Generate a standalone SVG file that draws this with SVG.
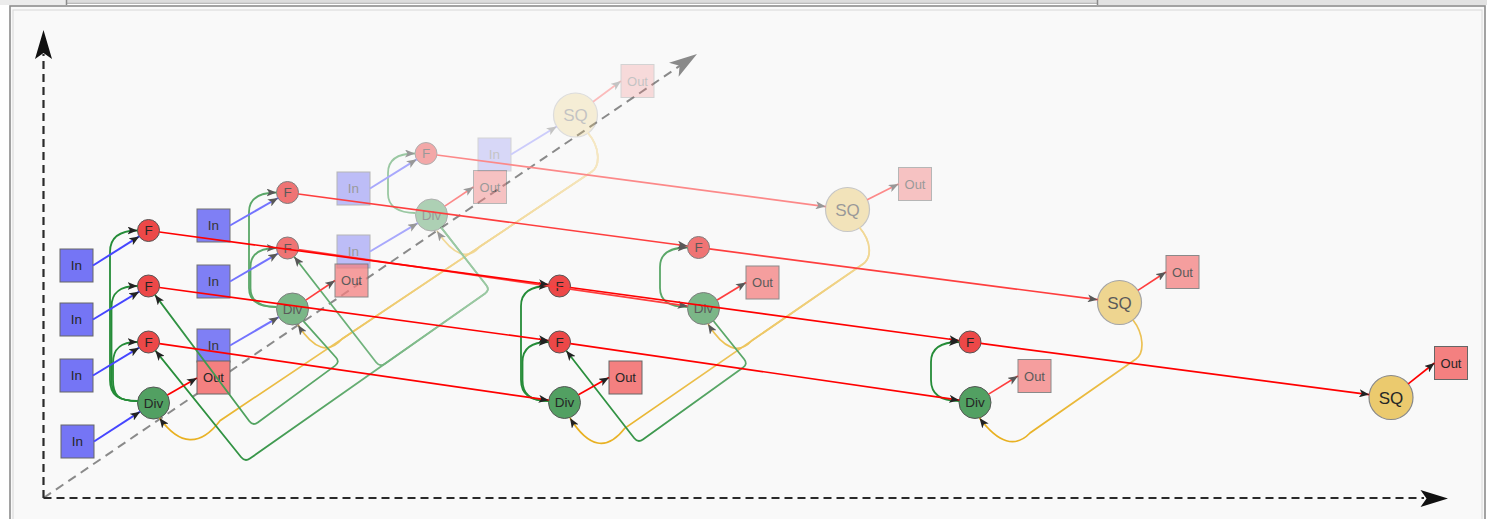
<svg xmlns="http://www.w3.org/2000/svg" width="1487" height="519" viewBox="0 0 1487 519">
<style>
text{font-family:"Liberation Sans",Arial,sans-serif;font-size:13.5px;fill:#262626;text-anchor:middle}
.in{fill:#7575f5;stroke:#666;stroke-width:1}
.out{fill:#f48080;stroke:#666;stroke-width:1}
.f{fill:#ec4848;stroke:#555;stroke-width:1}
.div{fill:#52a062;stroke:#555;stroke-width:1}
.sq{fill:#ebca6e;stroke:#888;stroke-width:1.2}
.sqt{font-size:17px}
.ot{font-size:13px}
.L1{opacity:.75}.L1i{opacity:.92}.L2{opacity:.45}.L3{opacity:.25}
#connectors path{fill:none}
.b0{stroke:#4646ff;stroke-width:2}.b1{stroke:#7373fe;stroke-width:2}.b2{stroke:#a8a8fc;stroke-width:2}.b3{stroke:#ccccfb;stroke-width:2}
.r0{stroke:#ff0000;stroke-width:1.7}.r1{stroke:#fe3e3e;stroke-width:1.7}.r2{stroke:#fc8989;stroke-width:1.7}.r3{stroke:#fbbbbb;stroke-width:1.7}
.g0{stroke:#258c38;stroke-width:1.8}.g1{stroke:#5aa768;stroke-width:1.8}.g2{stroke:#9ac8a2;stroke-width:1.8}
.gx{stroke-width:1.8}.yx{stroke-width:1.7}
.axis{fill:none;stroke:#2a2a2a;stroke-width:2.2;stroke-dasharray:8 5}
.daxis{fill:none;stroke:#8a8a8a;stroke-width:2;stroke-dasharray:9 6}
</style>
<defs>
<marker id="ah0" viewBox="0 0 10 8" refX="10" refY="4" markerWidth="10" markerHeight="8" orient="auto" markerUnits="userSpaceOnUse"><path d="M0,0 L10,4 L0,8 L2.5,4 Z" fill="#222"/></marker>
<marker id="ah1" viewBox="0 0 10 8" refX="10" refY="4" markerWidth="10" markerHeight="8" orient="auto" markerUnits="userSpaceOnUse"><path d="M0,0 L10,4 L0,8 L2.5,4 Z" fill="#585858"/></marker>
<marker id="ah2" viewBox="0 0 10 8" refX="10" refY="4" markerWidth="10" markerHeight="8" orient="auto" markerUnits="userSpaceOnUse"><path d="M0,0 L10,4 L0,8 L2.5,4 Z" fill="#989898"/></marker>
<marker id="ah3" viewBox="0 0 10 8" refX="10" refY="4" markerWidth="10" markerHeight="8" orient="auto" markerUnits="userSpaceOnUse"><path d="M0,0 L10,4 L0,8 L2.5,4 Z" fill="#c3c3c3"/></marker>
<linearGradient id="gG1" gradientUnits="userSpaceOnUse" x1="292.5" y1="309" x2="148.5" y2="286"><stop offset="0" stop-color="#5aa768"/><stop offset="1" stop-color="#258c38"/></linearGradient>
<linearGradient id="gG2" gradientUnits="userSpaceOnUse" x1="431.5" y1="215" x2="287.5" y2="248"><stop offset="0" stop-color="#9ac8a2"/><stop offset="1" stop-color="#5aa768"/></linearGradient>
<linearGradient id="gG3" gradientUnits="userSpaceOnUse" x1="431.5" y1="215" x2="148.5" y2="342"><stop offset="0" stop-color="#9ac8a2"/><stop offset="1" stop-color="#258c38"/></linearGradient>
<linearGradient id="gG4" gradientUnits="userSpaceOnUse" x1="703.5" y1="308.5" x2="559.5" y2="342"><stop offset="0" stop-color="#5aa768"/><stop offset="1" stop-color="#258c38"/></linearGradient>
<linearGradient id="gYA2" gradientUnits="userSpaceOnUse" x1="575.5" y1="115" x2="431.5" y2="215"><stop offset="0" stop-color="#f5e7c3"/><stop offset="1" stop-color="#f1d897"/></linearGradient>
<linearGradient id="gYA1" gradientUnits="userSpaceOnUse" x1="575.5" y1="115" x2="292.5" y2="309"><stop offset="0" stop-color="#f5e7c3"/><stop offset="1" stop-color="#ecc256"/></linearGradient>
<linearGradient id="gYA0" gradientUnits="userSpaceOnUse" x1="575.5" y1="115" x2="153.5" y2="403"><stop offset="0" stop-color="#f5e7c3"/><stop offset="1" stop-color="#e8b020"/></linearGradient>
<linearGradient id="gYB1" gradientUnits="userSpaceOnUse" x1="847.5" y1="209.5" x2="703.5" y2="308.5"><stop offset="0" stop-color="#f1d897"/><stop offset="1" stop-color="#ecc256"/></linearGradient>
<linearGradient id="gYB0" gradientUnits="userSpaceOnUse" x1="847.5" y1="209.5" x2="564.5" y2="402.5"><stop offset="0" stop-color="#f1d897"/><stop offset="1" stop-color="#e8b020"/></linearGradient>
<linearGradient id="gYC0" gradientUnits="userSpaceOnUse" x1="1119.5" y1="302.5" x2="975" y2="402.5"><stop offset="0" stop-color="#ecc256"/><stop offset="1" stop-color="#e8b020"/></linearGradient>
</defs>

<g id="frame">
<rect x="0" y="0" width="1487" height="519" fill="#ffffff"/>
<rect x="0" y="0" width="66" height="5" fill="#ececec"/>
<rect x="67" y="0" width="1030" height="3" fill="#dcdcdc"/>
<line x1="67" y1="3.3" x2="1097" y2="3.3" stroke="#a8a8a8"/>
<rect x="1098" y="0" width="389" height="5" fill="#e2e2e2"/>
<line x1="66.5" y1="0" x2="66.5" y2="5" stroke="#8a8a8a" stroke-width="1.5"/>
<line x1="1097.5" y1="0" x2="1097.5" y2="5" stroke="#8a8a8a" stroke-width="1.5"/>
<rect x="10" y="6" width="1475" height="520" fill="#f9f9f9" stroke="#8c8c8c" stroke-width="1.6"/>
<rect x="13" y="10" width="1469" height="515" fill="none" stroke="#d8d8d8"/>
</g>

<g id="axes">
<line class="daxis" x1="43.5" y1="498" x2="684" y2="63"/>
<polygon points="697,54 678.6,76.7 679.6,65.8 669,62.7" fill="#8a8a8a"/>
<line class="axis" x1="43.5" y1="498" x2="43.5" y2="54"/>
<polygon points="43.5,30 52,59 43.5,53 35,59" fill="#111"/>
<line class="axis" x1="43.5" y1="498" x2="1424" y2="498"/>
<polygon points="1448,498.5 1420.5,490 1426.5,498.5 1420.5,507" fill="#111"/>
</g>

<g id="nodes">
<g id="a3-in" class="L3"><rect class="in" x="478" y="138" width="33" height="33"/><text x="494.5" y="159">In</text></g>
<g id="a3-sq" class="L3"><circle class="sq" cx="575.5" cy="115" r="22"/><text class="sqt" x="575.5" y="121">SQ</text></g>
<g id="a3-out" class="L3"><rect class="out" x="621" y="64.5" width="33" height="33"/><text class="ot" x="637.5" y="85.5">Out</text></g>
<g id="a2-in1" class="L2"><rect class="in" x="337" y="172" width="33" height="33"/><text x="353.5" y="193">In</text></g>
<g id="a2-in2" class="L2"><rect class="in" x="337" y="235" width="33" height="33"/><text x="353.5" y="256">In</text></g>
<g id="a2-f" class="L2"><circle class="f" cx="426" cy="153.5" r="11"/><text x="426" y="158.3">F</text></g>
<g id="a2-div" class="L2"><circle class="div" cx="431.5" cy="215" r="16"/><text x="431.5" y="219.8">Div</text></g>
<g id="a2-out" class="L2"><rect class="out" x="473.5" y="170.5" width="33" height="33"/><text class="ot" x="490" y="191.5">Out</text></g>
<g id="b2-sq" class="L2"><circle class="sq" cx="847.5" cy="209.5" r="22"/><text class="sqt" x="847.5" y="215.5">SQ</text></g>
<g id="b2-out" class="L2"><rect class="out" x="898.5" y="167.5" width="33" height="33"/><text class="ot" x="915" y="188.5">Out</text></g>
<g id="a1-in1" class="L1i"><rect class="in" x="197" y="209" width="33" height="33"/><text x="213.5" y="230.3">In</text></g>
<g id="a1-in2" class="L1i"><rect class="in" x="197" y="265" width="33" height="33"/><text x="213.5" y="286.3">In</text></g>
<g id="a1-in3" class="L1i"><rect class="in" x="197" y="329" width="33" height="33"/><text x="213.5" y="350.3">In</text></g>
<g id="a1-f1" class="L1"><circle class="f" cx="287.5" cy="192.5" r="11"/><text x="287.5" y="197.3">F</text></g>
<g id="a1-f2" class="L1"><circle class="f" cx="287.5" cy="248" r="11"/><text x="287.5" y="252.8">F</text></g>
<g id="a1-div" class="L1"><circle class="div" cx="292.5" cy="309" r="16"/><text x="292.5" y="313.8">Div</text></g>
<g id="a1-out" class="L1"><rect class="out" x="335" y="264" width="33" height="33"/><text class="ot" x="351.5" y="285">Out</text></g>
<g id="b1-f" class="L1"><circle class="f" cx="698.5" cy="247.5" r="11"/><text x="698.5" y="252.3">F</text></g>
<g id="b1-div" class="L1"><circle class="div" cx="703.5" cy="308.5" r="16"/><text x="703.5" y="313.3">Div</text></g>
<g id="b1-out" class="L1"><rect class="out" x="746" y="266" width="33" height="33"/><text class="ot" x="762.5" y="287">Out</text></g>
<g id="c1-sq" class="L1"><circle class="sq" cx="1119.5" cy="302.5" r="22"/><text class="sqt" x="1119.5" y="308.5">SQ</text></g>
<g id="c1-out" class="L1"><rect class="out" x="1166" y="255.5" width="33" height="33"/><text class="ot" x="1182.5" y="276.5">Out</text></g>
<g id="a0-in1"><rect class="in" x="60" y="249" width="33" height="33"/><text x="76.5" y="270.3">In</text></g>
<g id="a0-in2"><rect class="in" x="60" y="303" width="33" height="33"/><text x="76.5" y="324.3">In</text></g>
<g id="a0-in3"><rect class="in" x="60" y="359" width="33" height="33"/><text x="76.5" y="380.3">In</text></g>
<g id="a0-in4"><rect class="in" x="61" y="425" width="33" height="33"/><text x="77.5" y="446.3">In</text></g>
<g id="a0-f1"><circle class="f" cx="148.5" cy="230.5" r="11"/><text x="148.5" y="235.3">F</text></g>
<g id="a0-f2"><circle class="f" cx="148.5" cy="286" r="11"/><text x="148.5" y="290.8">F</text></g>
<g id="a0-f3"><circle class="f" cx="148.5" cy="342" r="11"/><text x="148.5" y="346.8">F</text></g>
<g id="a0-div"><circle class="div" cx="153.5" cy="403" r="16"/><text x="153.5" y="407.8">Div</text></g>
<g id="a0-out"><rect class="out" x="197" y="361" width="33" height="33"/><text class="ot" x="213.5" y="382">Out</text></g>
<g id="b0-f1"><circle class="f" cx="559.5" cy="286" r="11"/><text x="559.5" y="290.8">F</text></g>
<g id="b0-f2"><circle class="f" cx="559.5" cy="342" r="11"/><text x="559.5" y="346.8">F</text></g>
<g id="b0-div"><circle class="div" cx="564.5" cy="402.5" r="16"/><text x="564.5" y="407.3">Div</text></g>
<g id="b0-out"><rect class="out" x="609" y="361" width="33" height="33"/><text class="ot" x="625.5" y="382">Out</text></g>
<g id="c0-f"><circle class="f" cx="970" cy="342" r="11"/><text x="970" y="346.8">F</text></g>
<g id="c0-div"><circle class="div" cx="975" cy="402.5" r="16"/><text x="975" y="407.3">Div</text></g>
<g id="c0-out" class="L1"><rect class="out" x="1018" y="359.5" width="33" height="33"/><text class="ot" x="1034.5" y="380.5">Out</text></g>
<g id="d0-sq"><circle class="sq" cx="1391" cy="397.5" r="22"/><text class="sqt" x="1391" y="403.5">SQ</text></g>
<g id="d0-out"><rect class="out" x="1434.5" y="346.5" width="33" height="33"/><text class="ot" x="1451" y="367.5">Out</text></g>
</g>

<g id="connectors">
<path class="yx" stroke="url(#gYA2)" marker-end="url(#ah2)" d="M588,133 C600,147 600.6,165.7 591.7,171.7 L480,246.5 Q462,268 437,231"/>
<path class="yx" stroke="url(#gYA1)" marker-end="url(#ah1)" d="M588,133 C600,147 600.6,165.7 591.7,171.7 L342,339 Q322,362 298,325"/>
<path class="yx" stroke="url(#gYA0)" marker-end="url(#ah0)" d="M588,133 C600,147 600.6,165.7 591.7,171.7 L220,420.7 Q190,460 159.5,418"/>
<path class="yx" stroke="url(#gYB1)" marker-end="url(#ah1)" d="M859.5,227.5 C872,242 871.7,258 863,264 L752,340.5 Q732,362 708,324"/>
<path class="yx" stroke="url(#gYB0)" marker-end="url(#ah0)" d="M859.5,227.5 C872,242 871.7,258 863,264 L625,428 Q598,463 570,418"/>
<path class="yx" stroke="url(#gYC0)" marker-end="url(#ah0)" d="M1133,320 C1144,334 1144.7,352.9 1136,359 L1030,433 Q1008,456 979.5,418"/>
<path class="gx" stroke="url(#gG2)" marker-end="url(#ah1)" d="M441.3,227.6 L486.3,285.3 Q490,290 485.1,293.4 L384.9,363.8 Q380,367.2 376.3,362.5 L294.2,256.7"/>
<path class="gx" stroke="url(#gG3)" marker-end="url(#ah0)" d="M441.3,227.6 L486.3,285.3 Q490,290 485.1,293.4 L249.9,458.6 Q245,462 241.2,457.3 L155.4,350.6"/>
<path class="gx" stroke="url(#gG1)" marker-end="url(#ah0)" d="M303.2,320.9 L336,357.5 Q340,362 335.2,365.6 L257.8,422.4 Q253,426 249.4,421.2 L155,294.9"/>
<path class="gx" stroke="url(#gG4)" marker-end="url(#ah0)" d="M713.5,321 L744.2,359.3 Q748,364 743.1,367.5 L642.9,439.5 Q638,443 634.3,438.3 L566.3,350.7"/>
<path class="g2" marker-end="url(#ah2)" d="M415.5,213 C398,213 388,206 388,194 L388,173 C388,160 397,153.5 415,153.5"/>
<path class="g1" marker-end="url(#ah1)" d="M276.5,307 C258,307 249,300 249,288 L249,212 C249,199 258,192.5 276.5,192.5"/>
<path class="g1" marker-end="url(#ah1)" d="M276.5,307 C258,307 250.5,300 250.5,288 L250.5,267 C250.5,255 259,248 276.5,248"/>
<path class="g1" marker-end="url(#ah1)" d="M687.5,307 C669,307 660,300 660,288 L660,267 C660,254 669,247.5 687.5,247.5"/>
<path class="g0" marker-end="url(#ah0)" d="M137.5,401 C118,401 110,395 110,380 L110,252 C110,238 118,230.5 137.5,230.5"/>
<path class="g0" marker-end="url(#ah0)" d="M137.5,401 C118,401 111.5,395 111.5,380 L111.5,307 C111.5,293 119,286 137.5,286"/>
<path class="g0" marker-end="url(#ah0)" d="M137.5,401 C118,401 113,395 113,380 L113,363 C113,349 120,342 137.5,342"/>
<path class="g0" marker-end="url(#ah0)" d="M548.5,401 C530,401 521,394 521,380 L521,306 C521,293 530,286 548.5,286"/>
<path class="g0" marker-end="url(#ah0)" d="M548.5,401 C530,401 522.5,394 522.5,380 L522.5,362 C522.5,349 531,342 548.5,342"/>
<path class="g0" marker-end="url(#ah0)" d="M959,401 C940,401 931,394 931,380 L931,362 C931,349 940,342 959,342"/>
<path class="b3" marker-end="url(#ah3)" d="M511,154.5 L556.7,126.5"/>
<path class="b2" marker-end="url(#ah2)" d="M370,188.5 L416.7,159.3"/>
<path class="b2" marker-end="url(#ah2)" d="M370,251.5 L417.7,223.2"/>
<path class="b1" marker-end="url(#ah1)" d="M230,225.5 L278,198"/>
<path class="b1" marker-end="url(#ah1)" d="M230,281.5 L278,253.5"/>
<path class="b1" marker-end="url(#ah1)" d="M230,345.5 L278.7,317.1"/>
<path class="b0" marker-end="url(#ah0)" d="M93,265.5 L139.2,236.4"/>
<path class="b0" marker-end="url(#ah0)" d="M93,319.5 L139.1,291.7"/>
<path class="b0" marker-end="url(#ah0)" d="M93,375.5 L139.1,347.7"/>
<path class="b0" marker-end="url(#ah0)" d="M94,441.5 L140.1,411.7"/>
<path class="r3" marker-end="url(#ah3)" d="M593.1,101.8 L621,81"/>
<path class="r2" marker-end="url(#ah2)" d="M444.8,206.1 L473.5,187"/>
<path class="r2" marker-end="url(#ah2)" d="M867.2,199.7 L898.5,184"/>
<path class="r1" marker-end="url(#ah1)" d="M305.8,300.1 L335,280.5"/>
<path class="r1" marker-end="url(#ah1)" d="M717.2,300.1 L746,282.5"/>
<path class="r1" marker-end="url(#ah1)" d="M1137.9,290.4 L1166,272"/>
<path class="r0" marker-end="url(#ah0)" d="M167.4,395 L197,378"/>
<path class="r0" marker-end="url(#ah0)" d="M578.4,394.7 L609,377.5"/>
<path class="r1" marker-end="url(#ah1)" d="M988.6,394.1 L1018,376"/>
<path class="r0" marker-end="url(#ah0)" d="M1408.2,383.8 L1434.5,363"/>
<path class="r2" marker-end="url(#ah2)" d="M436.9,155 L825.7,206.6"/>
<path class="r1" marker-end="url(#ah1)" d="M298.4,194 L687.6,246"/>
<path class="r1" marker-end="url(#ah1)" d="M298.4,249.6 L687.7,306.2"/>
<path class="r1" marker-end="url(#ah1)" d="M709.4,248.9 L1097.7,299.7"/>
<path class="r0" marker-end="url(#ah0)" d="M159.4,232 L548.6,284.5"/>
<path class="r0" marker-end="url(#ah0)" d="M159.4,287.5 L548.6,340.5"/>
<path class="r0" marker-end="url(#ah0)" d="M159.4,343.6 L548.7,400.2"/>
<path class="r0" marker-end="url(#ah0)" d="M570.4,287.5 L959.1,340.5"/>
<path class="r0" marker-end="url(#ah0)" d="M570.4,343.6 L959.2,400.2"/>
<path class="r0" marker-end="url(#ah0)" d="M980.9,343.4 L1369.2,394.6"/>
</g>
</svg>
